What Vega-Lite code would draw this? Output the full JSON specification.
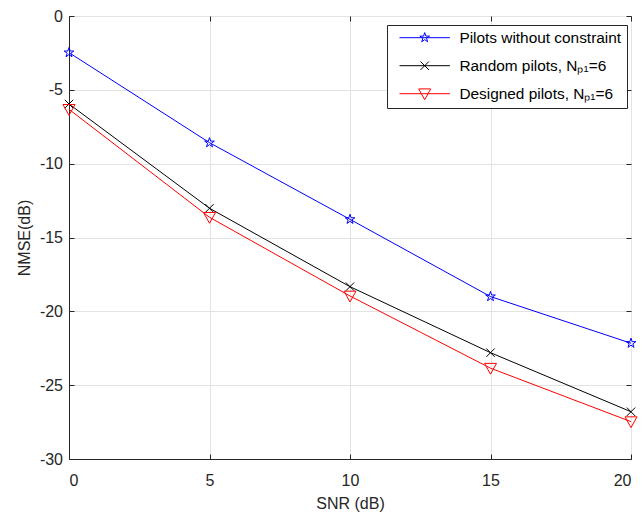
{
  "$schema": "https://vega.github.io/schema/vega-lite/v6.json",
  "width": 562,
  "height": 443,
  "autosize": "none",
  "padding": {"left": 69, "top": 16, "right": 11, "bottom": 56},
  "background": "white",
  "config": {
    "font": "Liberation Sans",
    "view": {"stroke": "#262626", "strokeWidth": 1},
    "axis": {
      "labelFont": "Liberation Sans",
      "titleFont": "Liberation Sans",
      "labelFontSize": 16,
      "titleFontSize": 16,
      "titleFontWeight": "normal",
      "labelColor": "#262626",
      "titleColor": "#262626",
      "domainColor": "#262626",
      "tickColor": "#262626",
      "gridColor": "#e3e3e3",
      "gridWidth": 1
    }
  },
  "data": {
    "values": [
      {"snr": 0, "nmse": -2.48, "series": "Pilots without constraint"},
      {"snr": 5, "nmse": -8.58, "series": "Pilots without constraint"},
      {"snr": 10, "nmse": -13.77, "series": "Pilots without constraint"},
      {"snr": 15, "nmse": -19.0, "series": "Pilots without constraint"},
      {"snr": 20, "nmse": -22.16, "series": "Pilots without constraint"},
      {"snr": 0, "nmse": -5.96, "series": "Random pilots, Nₚ₁=6"},
      {"snr": 5, "nmse": -13.02, "series": "Random pilots, Nₚ₁=6"},
      {"snr": 10, "nmse": -18.33, "series": "Random pilots, Nₚ₁=6"},
      {"snr": 15, "nmse": -22.8, "series": "Random pilots, Nₚ₁=6"},
      {"snr": 20, "nmse": -26.8, "series": "Random pilots, Nₚ₁=6"},
      {"snr": 0, "nmse": -6.32, "series": "Designed pilots, Nₚ₁=6"},
      {"snr": 5, "nmse": -13.63, "series": "Designed pilots, Nₚ₁=6"},
      {"snr": 10, "nmse": -18.96, "series": "Designed pilots, Nₚ₁=6"},
      {"snr": 15, "nmse": -23.85, "series": "Designed pilots, Nₚ₁=6"},
      {"snr": 20, "nmse": -27.47, "series": "Designed pilots, Nₚ₁=6"}
    ]
  },
  "resolve": {"axis": {"x": "independent", "y": "independent"}},
  "layer": [
    {
      "mark": {"type": "line", "strokeWidth": 1},
      "encoding": {
        "x": {
          "field": "snr", "type": "quantitative",
          "scale": {"domain": [0, 20], "nice": false},
          "axis": {"title": "SNR (dB)", "values": [0, 5, 10, 15, 20], "tickSize": -5, "labelPadding": 18, "titlePadding": 7, "grid": true}
        },
        "y": {
          "field": "nmse", "type": "quantitative",
          "scale": {"domain": [-30, 0], "nice": false},
          "axis": {"title": "NMSE(dB)", "values": [-30, -25, -20, -15, -10, -5, 0], "labelExpr": "datum.value + ''", "tickSize": -5, "labelPadding": 11.5, "titlePadding": 6.5, "grid": true}
        },
        "color": {
          "field": "series", "type": "nominal",
          "scale": {
            "domain": ["Pilots without constraint", "Random pilots, Nₚ₁=6", "Designed pilots, Nₚ₁=6"],
            "range": ["#0000ff", "#000000", "#ff0000"]
          },
          "legend": {
            "title": null,
            "orient": "none",
            "legendX": 318,
            "legendY": 9,
            "padding": 5,
            "fillColor": "white",
            "strokeColor": "#262626",
            "cornerRadius": 0,
            "labelFont": "Liberation Sans",
            "labelFontSize": 15.4,
            "labelLimit": 300,
            "labelColor": "#000000",
            "symbolSize": 144,
            "symbolOffset": 25,
            "labelOffset": 27,
            "rowPadding": 11,
            "symbolStrokeWidth": 1,
            "symbolFillColor": "transparent",
            "symbolType": {"expr": "datum.value === 'Pilots without constraint' ? 'M-4.2,0L4.2,0M0,-0.85L0.191,-0.263L0.808,-0.263L0.309,0.1L0.5,0.688L0,0.325L-0.5,0.688L-0.309,0.1L-0.808,-0.263L-0.191,-0.263Z' : indexof(datum.value, 'Random') === 0 ? 'M-4.2,0L4.2,0M-0.7,-0.7L0.7,0.7M-0.7,0.7L0.7,-0.7' : 'M-4.2,0L4.2,0M-1,-0.8L1,-0.8L0,1Z'"}
          }
        }
      }
    },
    {
      "transform": [{"filter": {"field": "series", "equal": "Pilots without constraint"}}],
      "mark": {"type": "point", "filled": false, "size": 144, "strokeWidth": 1, "opacity": 1, "color": "#0000ff",
        "shape": "M0,-0.85L0.191,-0.263L0.808,-0.263L0.309,0.1L0.5,0.688L0,0.325L-0.5,0.688L-0.309,0.1L-0.808,-0.263L-0.191,-0.263Z"},
      "encoding": {
        "x": {
          "field": "snr", "type": "quantitative",
          "scale": {"domain": [0, 20], "nice": false},
          "axis": {"orient": "top", "title": null, "labels": false, "values": [0, 5, 10, 15, 20], "tickSize": -5, "grid": false, "domain": false}
        },
        "y": {
          "field": "nmse", "type": "quantitative",
          "scale": {"domain": [-30, 0], "nice": false},
          "axis": {"orient": "right", "title": null, "labels": false, "values": [-30, -25, -20, -15, -10, -5, 0], "tickSize": -5, "grid": false, "domain": false}
        }
      }
    },
    {
      "transform": [{"filter": {"field": "series", "equal": "Random pilots, Nₚ₁=6"}}],
      "mark": {"type": "point", "filled": false, "size": 144, "strokeWidth": 1, "opacity": 1, "color": "#000000",
        "shape": "M-0.7,-0.7L0.7,0.7M-0.7,0.7L0.7,-0.7"},
      "encoding": {
        "x": {"field": "snr", "type": "quantitative", "axis": null},
        "y": {"field": "nmse", "type": "quantitative", "axis": null}
      }
    },
    {
      "transform": [{"filter": {"field": "series", "equal": "Designed pilots, Nₚ₁=6"}}],
      "mark": {"type": "point", "filled": false, "size": 144, "strokeWidth": 1, "opacity": 1, "color": "#ff0000",
        "shape": "M-1,-0.8L1,-0.8L0,1Z"},
      "encoding": {
        "x": {"field": "snr", "type": "quantitative", "axis": null},
        "y": {"field": "nmse", "type": "quantitative", "axis": null}
      }
    }
  ]
}
